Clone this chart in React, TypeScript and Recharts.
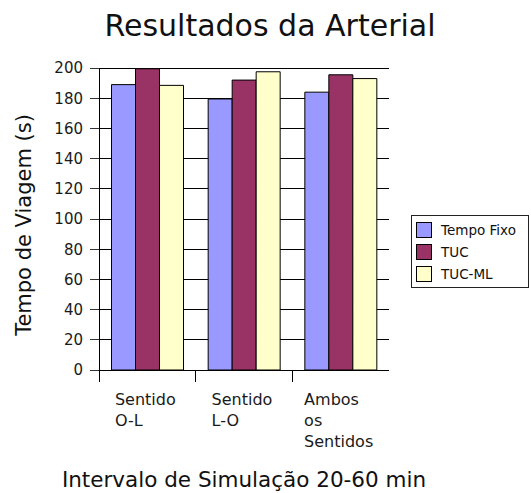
import React from "react";
import { BarChart, Bar, XAxis, YAxis, CartesianGrid } from "recharts";

const categories = ["Sentido\nO-L", "Sentido\nL-O", "Ambos\nos\nSentidos"];
const tempoFixo = [189, 179.5, 184];
const tuc = [199.5, 192, 195.5];
const tucMl = [188.5, 197.5, 193];
const yTicks = [0, 20, 40, 60, 80, 100, 120, 140, 160, 180, 200];

const series = [
  { key: "tempoFixo", name: "Tempo Fixo", color: "#9999ff" },
  { key: "tuc", name: "TUC", color: "#993366" },
  { key: "tucMl", name: "TUC-ML", color: "#ffffcc" },
];

const data = categories.map((c, i) => ({
  name: c,
  tempoFixo: tempoFixo[i],
  tuc: tuc[i],
  tucMl: tucMl[i],
}));

const W = 531;
const H = 493;
const MARGIN = { top: 68, right: 142, bottom: 0, left: 0 };
const Y_AXIS_W = 99;
const BAND = (W - MARGIN.right - Y_AXIS_W) / categories.length;
const FONT = "DejaVu Sans, sans-serif";

let ctx: CanvasRenderingContext2D | null = null;
function measure(s: string, size: number) {
  if (!ctx) ctx = document.createElement("canvas").getContext("2d");
  if (!ctx) return s.length * size * 0.55;
  ctx.font = `${size}px "DejaVu Sans"`;
  return ctx.measureText(s).width;
}

function CategoryTick(props: any) {
  const { x, y, payload } = props;
  const lines: string[] = String(payload.value).split("\n");
  const half = Math.max(...lines.map((l) => measure(l, 16))) / 2 + 2;
  const left = x - BAND / 2;
  return (
    <g>
      <line x1={left} x2={left} y1={y} y2={y + 12} stroke="#000" shapeRendering="crispEdges" />
      {lines.map((l, i) => (
        <text
          key={i}
          x={x - half}
          y={y + 35 + i * 21}
          fontSize={16}
          fontFamily={FONT}
          fill="#1a1a1a"
          textAnchor="start"
        >
          {l}
        </text>
      ))}
    </g>
  );
}

// legend drawn outside the chart so it doesn't eat plot space
function LegendBox() {
  return (
    <div
      style={{
        position: "absolute",
        left: 411,
        top: 215,
        width: 116,
        height: 71,
        border: "1px solid #222",
        background: "#fff",
        fontFamily: FONT,
        fontSize: 13.5,
        color: "#111",
      }}
    >
      {series.map((s, i) => (
        <div
          key={s.key}
          style={{
            position: "absolute",
            left: 4,
            top: 6 + i * 22,
            height: 16,
            display: "flex",
            alignItems: "center",
            whiteSpace: "nowrap",
          }}
        >
          <span
            style={{
              display: "inline-block",
              width: 14,
              height: 14,
              background: s.color,
              border: "1px solid #000",
              marginRight: 9,
            }}
          />
          {s.name}
        </div>
      ))}
    </div>
  );
}

function YLabel(props: any) {
  const vb = props.viewBox || { y: 68, height: 302 };
  const cx = 31;
  const cy = vb.y + vb.height / 2 + 6;
  return (
    <text
      x={cx}
      y={cy}
      transform={`rotate(-90, ${cx}, ${cy})`}
      textAnchor="middle"
      fontSize={21}
      fontFamily={FONT}
      fill="#111"
    >
      Tempo de Viagem (s)
    </text>
  );
}

export default function App() {
  return (
    <div style={{ position: "absolute", left: 0, top: 0, width: W, height: H, background: "#fff" }}>
      <BarChart
        width={W}
        height={H}
        data={data}
        margin={MARGIN}
        barCategoryGap={12.5}
        barGap={0}
      >
        <CartesianGrid
          horizontal
          vertical={false}
          stroke="#000"
          strokeOpacity={1}
          shapeRendering="crispEdges"
        />
        <XAxis
          dataKey="name"
          height={123}
          axisLine={{ stroke: "#000", shapeRendering: "crispEdges" }}
          tickLine={false}
          tickSize={0}
          tickMargin={0}
          interval={0}
          tick={<CategoryTick />}
          label={{
            value: "Intervalo de Simulação 20-60 min",
            position: "insideBottom",
            offset: 6,
            fontSize: 21.5,
            fontFamily: FONT,
            fill: "#111",
          }}
        />
        <YAxis
          width={Y_AXIS_W}
          domain={[0, 200]}
          ticks={yTicks}
          interval={0}
          axisLine={{ stroke: "#000", shapeRendering: "crispEdges" }}
          tickLine={{ stroke: "#333", shapeRendering: "crispEdges" }}
          tickSize={9}
          tickMargin={7}
          tick={{ fontSize: 15, fontFamily: FONT, fill: "#1a1a1a" }}
          label={<YLabel />}
        />
        {series.map((s) => (
          <Bar
            key={s.key}
            dataKey={s.key}
            name={s.name}
            fill={s.color}
            stroke="#000"
            strokeWidth={1}
            isAnimationActive={false}
          />
        ))}
      </BarChart>
      <LegendBox />
      <svg
        width={W}
        height={50}
        style={{ position: "absolute", left: 0, top: 0, pointerEvents: "none" }}
      >
        <text x={270} y={36} textAnchor="middle" fontSize={30} fontFamily={FONT} fill="#111">
          Resultados da Arterial
        </text>
      </svg>
    </div>
  );
}
